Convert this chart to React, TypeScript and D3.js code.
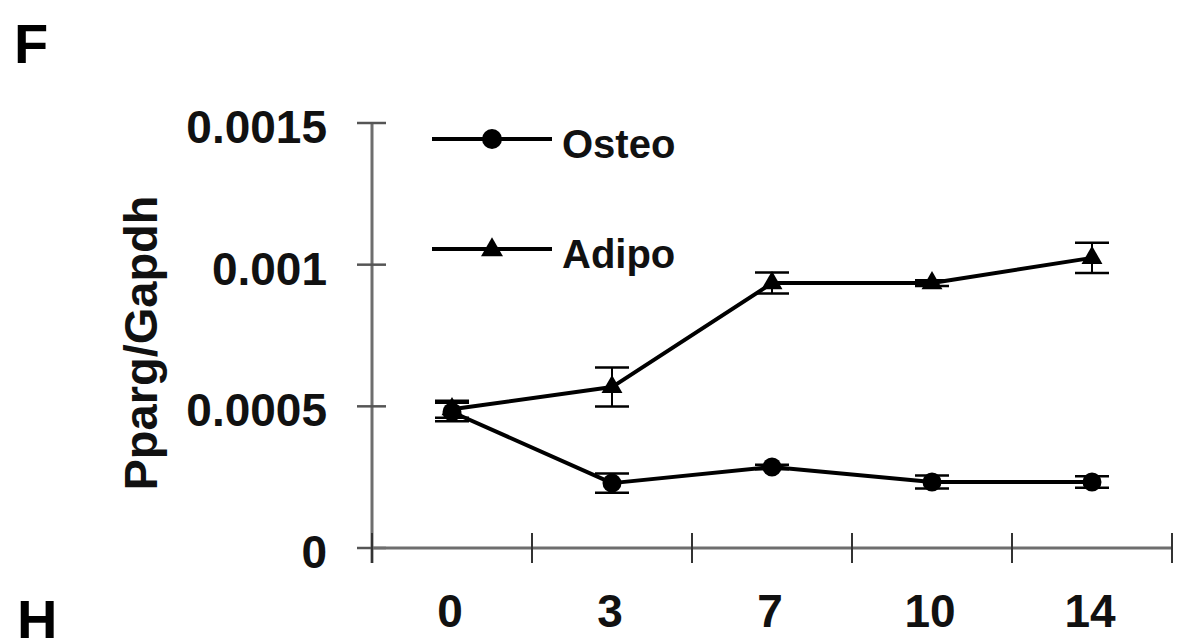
import React from "react";
import * as d3 from "d3";

const days = ["0", "3", "7", "10", "14"];
const osteoValues = [0.00048, 0.000229, 0.000286, 0.000233, 0.000233];
const osteoErrors = [0.000033, 0.000034, 0.000008, 0.000023, 0.00002];
const adipoValues = [0.00049, 0.000568, 0.000935, 0.000935, 0.001024];
const adipoErrors = [0.00003, 0.000069, 0.000037, 0.00001, 0.000053];
const yTicks = [0, 0.0005, 0.001, 0.0015];
const yTickLabels = ["0", "0.0005", "0.001", "0.0015"];

const FONT = "'Liberation Sans', Arial, Helvetica, sans-serif";

export default function App() {
  const W = 1181;
  const H = 638;
  const x = d3.scaleBand<string>().domain(days).range([372, 1172]).padding(0);
  const y = d3.scaleLinear().domain([0, 0.0015]).range([548, 123]);
  const cx = (d: string) => (x(d) as number) + x.bandwidth() / 2;

  const line = d3
    .line<number>()
    .x((_, i) => cx(days[i]))
    .y((v) => y(v));

  const tri = d3.symbol().type(d3.symbolTriangle).size(190)() as string;
  const triLegend = d3.symbol().type(d3.symbolTriangle).size(210)() as string;

  const capHalf = 17;
  const series = [
    { name: "Osteo", values: osteoValues, errors: osteoErrors, marker: "circle" },
    { name: "Adipo", values: adipoValues, errors: adipoErrors, marker: "triangle" },
  ];

  const xTickPositions = [...days.map((d) => x(d) as number), 1172];

  return (
    <svg
      width={W}
      height={H}
      viewBox={`0 0 ${W} ${H}`}
      style={{ position: "absolute", left: 0, top: 0, background: "#fff" }}
      fontFamily={FONT}
      fontWeight="bold"
    >
      <rect x={0} y={0} width={W} height={H} fill="#fff" />
      {/* Panel letters */}
      <text x={14} y={63} fontSize={56} fill="#000">F</text>
      <text x={17} y={639} fontSize={56} fill="#000">H</text>

      {/* Y axis */}
      <line x1={372} x2={372} y1={y(0.0015)} y2={563} stroke="#6e6e6e" strokeWidth={3} />
      {yTicks.map((t, i) => (
        <g key={"yt" + i}>
          <line x1={357} x2={386} y1={y(t)} y2={y(t)} stroke="#555" strokeWidth={2.5} />
          <text x={327} y={y(t) + 20} textAnchor="end" fontSize={46} fill="#111">
            {yTickLabels[i]}
          </text>
        </g>
      ))}
      <text
        transform={`translate(157,343) rotate(-90)`}
        textAnchor="middle"
        fontSize={47}
        fill="#111"
      >
        Pparg/Gapdh
      </text>

      {/* X axis */}
      <line x1={372} x2={1172} y1={548} y2={548} stroke="#6e6e6e" strokeWidth={3} />
      {xTickPositions.map((p, i) => (
        <line key={"xt" + i} x1={p} x2={p} y1={533} y2={563} stroke="#333" strokeWidth={2} />
      ))}
      {days.map((d) => (
        <text key={"xl" + d} x={cx(d) - 2} y={627} textAnchor="middle" fontSize={46} fill="#111">
          {d}
        </text>
      ))}

      {/* Series */}
      {series.map((s) => (
        <g key={s.name}>
          <path d={line(s.values) as string} fill="none" stroke="#000" strokeWidth={4} strokeLinejoin="round" />
          {s.values.map((v, i) => {
            const px = cx(days[i]);
            const e = s.errors[i];
            return (
              <g key={s.name + i}>
                <line x1={px} x2={px} y1={y(v + e)} y2={y(v - e)} stroke="#000" strokeWidth={2} />
                <line x1={px - capHalf} x2={px + capHalf} y1={y(v + e)} y2={y(v + e)} stroke="#000" strokeWidth={2.5} />
                <line x1={px - capHalf} x2={px + capHalf} y1={y(v - e)} y2={y(v - e)} stroke="#000" strokeWidth={2.5} />
                {s.marker === "circle" ? (
                  <circle cx={px} cy={y(v)} r={9.5} fill="#000" />
                ) : (
                  <path d={tri} transform={`translate(${px},${y(v)})`} fill="#000" />
                )}
              </g>
            );
          })}
        </g>
      ))}

      {/* Legend */}
      <line x1={432} x2={552} y1={139} y2={139} stroke="#000" strokeWidth={4} />
      <circle cx={492} cy={139} r={10} fill="#000" />
      <text x={562} y={158} fontSize={40} fill="#111">Osteo</text>
      <line x1={432} x2={552} y1={249} y2={249} stroke="#000" strokeWidth={4} />
      <path d={triLegend} transform={`translate(492,250)`} fill="#000" />
      <text x={562} y={268} fontSize={40} fill="#111">Adipo</text>
    </svg>
  );
}
